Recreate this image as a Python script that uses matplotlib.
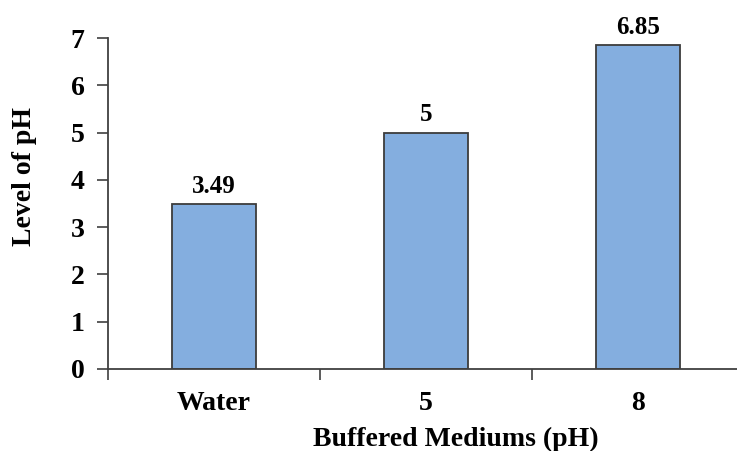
import matplotlib.pyplot as plt
import numpy as np

categories = ['Water', '5', '8']
ph_levels = [3.49, 5, 6.85]
value_labels = ['3.49', '5', '6.85']

plt.rcParams['font.family'] = ['Liberation Serif', 'DejaVu Serif']
plt.rcParams['font.weight'] = 'bold'

fig = plt.figure(figsize=(7.37, 4.51), dpi=100)
# axes run a little past the right edge of the figure
ax = fig.add_axes([108 / 737, 82 / 451, 636 / 737, 331 / 451])

x = np.arange(len(categories))
bars = ax.bar(x, ph_levels, width=0.4, color='#84AEDF', edgecolor='#3c3c3c',
              linewidth=1.3, zorder=2)

for xi, v, lbl in zip(x, ph_levels, value_labels):
    ax.text(xi, v + 0.13, lbl, ha='center', va='bottom', fontsize=18, fontweight='bold')

ax.set_xlim(-0.5, 2.5)
ax.set_ylim(0, 7)
ax.set_yticks(range(8))
ax.set_xticks(x)
ax.set_xticklabels(categories)
ax.set_xticks([-0.5, 0.5, 1.5, 2.5], minor=True)

ax.tick_params(axis='x', which='major', length=0, pad=16, labelsize=20)
ax.tick_params(axis='x', which='minor', length=8, width=1.2, color='#404040')
ax.tick_params(axis='y', length=8, width=1.2, color='#404040', pad=9, labelsize=20)

for side in ['top', 'right']:
    ax.spines[side].set_visible(False)
for side in ['left', 'bottom']:
    ax.spines[side].set_color('#404040')
    ax.spines[side].set_linewidth(1.3)

ax.set_xlabel('Buffered Mediums (pH)', fontsize=20, fontweight='bold')
ax.set_ylabel('Level of pH', fontsize=20, fontweight='bold')
ax.xaxis.set_label_coords(0.547, -0.175)
ax.yaxis.set_label_coords(-0.112, 0.583)

fig.savefig('out.png', dpi=100)
